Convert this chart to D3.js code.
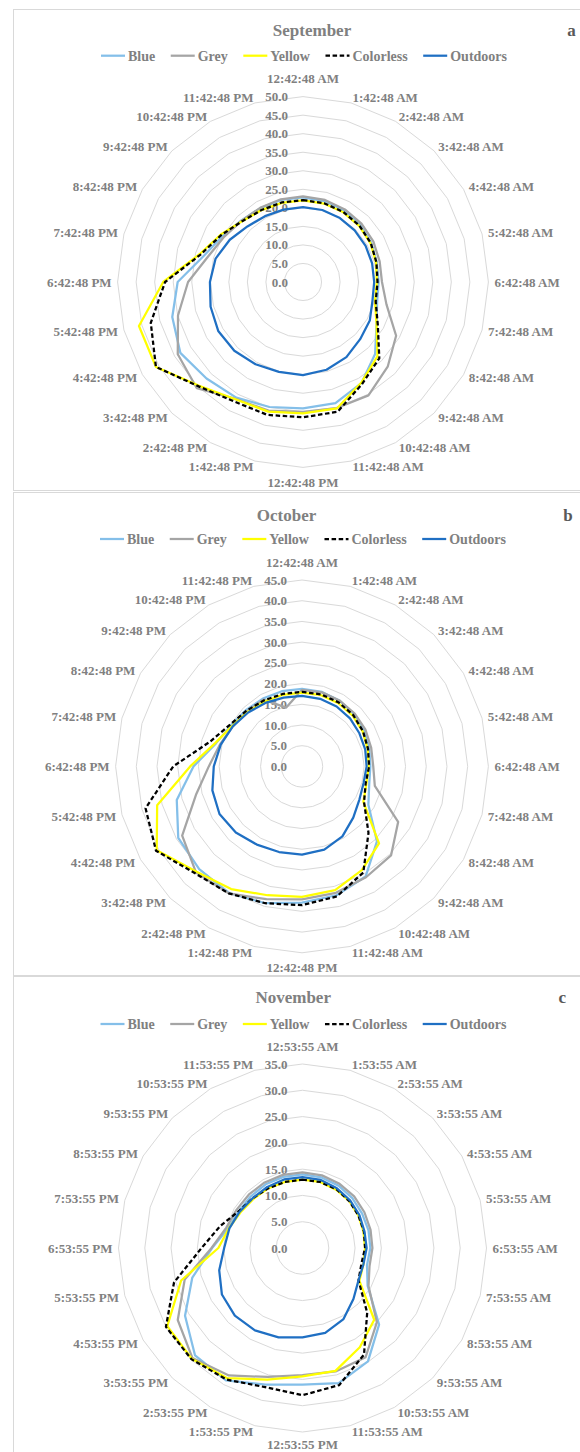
<!DOCTYPE html>
<html>
<head>
<meta charset="utf-8">
<script src="https://cdn.jsdelivr.net/npm/d3@7"></script>
<style>
  html, body { margin: 0; padding: 0; background: #fff; }
  svg text { font-family: "Liberation Serif", "Times New Roman", serif; font-weight: bold; }
</style>
</head>
<body>
<svg id="chart" width="580" height="1452"></svg>
<script>
// ---- Categories (hourly readings) ----
const hoursSepOct = [
  "12:42:48 AM", "1:42:48 AM", "2:42:48 AM", "3:42:48 AM", "4:42:48 AM", "5:42:48 AM",
  "6:42:48 AM", "7:42:48 AM", "8:42:48 AM", "9:42:48 AM", "10:42:48 AM", "11:42:48 AM",
  "12:42:48 PM", "1:42:48 PM", "2:42:48 PM", "3:42:48 PM", "4:42:48 PM", "5:42:48 PM",
  "6:42:48 PM", "7:42:48 PM", "8:42:48 PM", "9:42:48 PM", "10:42:48 PM", "11:42:48 PM"
];
const hoursNov = [
  "12:53:55 AM", "1:53:55 AM", "2:53:55 AM", "3:53:55 AM", "4:53:55 AM", "5:53:55 AM",
  "6:53:55 AM", "7:53:55 AM", "8:53:55 AM", "9:53:55 AM", "10:53:55 AM", "11:53:55 AM",
  "12:53:55 PM", "1:53:55 PM", "2:53:55 PM", "3:53:55 PM", "4:53:55 PM", "5:53:55 PM",
  "6:53:55 PM", "7:53:55 PM", "8:53:55 PM", "9:53:55 PM", "10:53:55 PM", "11:53:55 PM"
];

const seriesNames = ["Blue", "Grey", "Yellow", "Colorless", "Outdoors"];

// ---- Radial axis ticks ----
const sepTicks = [0, 5, 10, 15, 20, 25, 30, 35, 40, 45, 50];
const octTicks = [0, 5, 10, 15, 20, 25, 30, 35, 40, 45];
const novTicks = [0, 5, 10, 15, 20, 25, 30, 35];

// ---- September ----
const sepBlue      = [22.8,22.6,22.3,21.8,21.2,20.6,20.4,20.7,22.9,27.5,31.5,33.8,34.1,34.9,36.0,36.8,38.2,36.5,33.8,27.6,25.0,23.5,23.0,22.9];
const sepGrey      = [23.1,22.9,22.6,22.3,21.9,21.4,21.3,23.3,29.0,32.3,35.3,35.2,35.0,35.9,36.4,40.5,39.0,34.9,31.0,26.5,24.5,23.4,23.1,23.1];
const sepYellow    = [22.0,21.9,21.7,21.4,21.0,20.4,19.9,20.1,22.9,28.4,31.4,35.3,35.4,36.2,36.5,39.6,45.8,45.8,37.7,28.9,25.6,23.2,22.4,22.1];
const sepColorless = [22.1,22.0,21.8,21.5,21.1,20.5,20.1,20.3,23.3,29.1,31.8,36.2,36.5,37.1,37.2,39.8,45.8,42.5,37.2,28.6,25.4,23.2,22.4,22.2];
const sepOutdoors  = [20.2,20.1,19.9,19.7,19.5,19.3,19.2,19.4,20.8,21.8,23.4,24.5,25.1,25.1,25.6,26.2,26.4,25.8,25.1,24.4,22.8,21.2,20.5,20.2];

// ---- October ----
const octBlue      = [18.7,18.6,18.3,17.8,17.3,16.8,16.5,16.8,18.5,25.6,30.7,32.2,32.9,34.2,35.3,35.1,34.5,31.3,26.2,21.5,19.8,19.2,18.9,18.8];
const octGrey      = [18.5,18.5,18.3,18.0,17.7,17.3,17.2,18.2,26.8,30.4,30.9,31.6,32.1,33.2,35.4,36.2,33.4,26.5,22.5,20.5,19.3,18.8,18.6,14.7];
const octYellow    = [17.8,17.8,17.6,17.3,16.9,16.4,16.1,16.1,17.1,26.3,28.9,30.9,31.5,32.2,34.2,36.0,40.5,36.2,27.0,21.7,19.5,18.6,18.1,17.9];
const octColorless = [18.0,18.0,17.8,17.5,17.0,16.5,16.2,15.9,17.3,22.7,29.6,32.5,33.5,34.2,35.4,36.5,40.7,39.1,31.1,23.0,20.1,19.0,18.4,18.1];
const octOutdoors  = [17.0,16.9,16.7,16.4,16.0,15.8,15.6,15.4,16.0,17.5,19.5,20.8,21.3,21.4,21.8,22.6,23.0,22.4,21.3,20.3,19.3,18.4,17.7,17.2];

// ---- November ----
const novBlue      = [14.0,13.9,13.7,13.4,13.1,13.0,12.9,12.7,14.3,20.6,24.9,26.6,26.0,26.9,29.1,28.9,25.8,21.7,17.2,14.6,14.0,13.9,14.0,14.0];
const novGrey      = [14.4,14.3,14.1,13.9,13.6,13.4,13.3,13.2,14.5,20.0,24.0,24.3,24.2,25.4,28.0,29.6,27.4,23.2,17.3,15.0,14.5,14.4,14.4,14.4];
const novYellow    = [13.0,13.0,12.8,12.6,12.3,12.0,11.9,12.0,12.5,19.3,21.8,24.2,24.4,25.9,28.6,29.8,29.7,23.9,16.0,14.5,13.6,13.2,13.1,13.0];
const novColorless = [13.0,13.0,12.9,12.6,12.3,12.1,11.9,11.6,12.3,17.4,23.4,27.0,28.0,27.4,28.9,29.9,30.0,25.3,19.2,16.2,14.0,13.4,13.1,13.0];
const novOutdoors  = [13.5,13.4,13.1,12.8,12.5,12.2,12.2,12.0,12.3,13.7,15.6,16.7,17.0,17.6,18.1,18.2,17.7,16.4,14.9,14.4,13.8,13.4,13.4,13.5];

// ---- Styles ----
const seriesStyle = {
  Blue:      { color: "#84bfe9", dash: null },
  Grey:      { color: "#a5a5a5", dash: null },
  Yellow:    { color: "#ffff00", dash: null },
  Colorless: { color: "#000000", dash: "4.5,2.6" },
  Outdoors:  { color: "#1f6fc3", dash: null }
};
const textGrey = "#808080";
const gridGrey = "#d9d9d9";

// ---- Panel layout ----
const panels = [
  { title: "September", letter: "a", cats: hoursSepOct, ticks: sepTicks,
    values: [sepBlue, sepGrey, sepYellow, sepColorless, sepOutdoors],
    box: [13.5, 9.5, 620, 481], cx: 303, cy: 282, R: 185.4, bottomShift: 9,
    titleX: 312, titleY: 30, letterX: 571.6, legendY: 55.7 },
  { title: "October", letter: "b", cats: hoursSepOct, ticks: octTicks,
    values: [octBlue, octGrey, octYellow, octColorless, octOutdoors],
    box: [13.5, 492.5, 620, 483], cx: 302, cy: 766.4, R: 186.4, bottomShift: 9,
    titleX: 286.5, titleY: 515, letterX: 568, legendY: 539 },
  { title: "November", letter: "c", cats: hoursNov, ticks: novTicks,
    values: [novBlue, novGrey, novYellow, novColorless, novOutdoors],
    box: [13.5, 976.5, 620, 520], cx: 302.5, cy: 1248, R: 184, bottomShift: 6.5,
    titleX: 293.2, titleY: 997, letterX: 562.3, legendY: 1024 }
];

const svg = d3.select("#chart");

function drawPanel(p) {
  const g = svg.append("g");

  // chart area frame
  g.append("rect")
    .attr("x", p.box[0]).attr("y", p.box[1])
    .attr("width", p.box[2]).attr("height", p.box[3])
    .attr("fill", "#fff").attr("stroke", gridGrey).attr("stroke-width", 1);

  const maxV = d3.max(p.ticks);
  const r = d3.scaleLinear().domain([0, maxV]).range([0, p.R]);
  const n = p.cats.length;
  const ang = d3.scaleLinear().domain([0, n]).range([0, 2 * Math.PI]);

  const plot = g.append("g").attr("transform", `translate(${p.cx},${p.cy})`);

  // polygonal gridlines
  const ring = t => d3.lineRadial()
    .angle((d, i) => ang(i))
    .radius(r(t))
    .curve(d3.curveLinearClosed)(p.cats);
  plot.selectAll("path.grid")
    .data(p.ticks.filter(t => t > 0))
    .join("path")
    .attr("class", "grid")
    .attr("d", d => ring(d))
    .attr("fill", "none")
    .attr("stroke", gridGrey)
    .attr("stroke-width", 1);

  // value axis labels
  plot.selectAll("text.tick")
    .data(p.ticks)
    .join("text")
    .attr("class", "tick")
    .attr("x", -15)
    .attr("y", d => -r(d))
    .attr("dy", "0.35em")
    .attr("text-anchor", "end")
    .attr("font-size", 13)
    .attr("fill", textGrey)
    .text(d => d.toFixed(1));

  // category labels around the rim
  plot.selectAll("text.cat")
    .data(p.cats)
    .join("text")
    .attr("class", "cat")
    .attr("x", (d, i) => (p.R + 6) * Math.sin(ang(i)))
    .attr("y", (d, i) => {
      let y = -(p.R + 6) * Math.cos(ang(i));
      if (i === 0) y -= 12;
      if (i === n / 2) y += p.bottomShift;
      return y;
    })
    .attr("dy", "0.35em")
    .attr("text-anchor", (d, i) => (i === 0 || i === n / 2) ? "middle" : (i < n / 2 ? "start" : "end"))
    .attr("font-size", 13)
    .attr("fill", textGrey)
    .text(d => d);

  // series
  const line = d3.lineRadial()
    .angle((d, i) => ang(i))
    .radius(d => r(d))
    .curve(d3.curveLinearClosed);
  seriesNames.forEach((name, si) => {
    const st = seriesStyle[name];
    plot.append("path")
      .attr("d", line(p.values[si]))
      .attr("fill", "none")
      .attr("stroke", st.color)
      .attr("stroke-width", 2.25)
      .attr("stroke-linejoin", "round")
      .attr("stroke-dasharray", st.dash);
  });

  // title and panel letter
  g.append("text")
    .attr("x", p.titleX).attr("y", p.titleY).attr("dy", "0.35em")
    .attr("text-anchor", "middle").attr("font-size", 17)
    .attr("fill", textGrey).text(p.title);
  g.append("text")
    .attr("x", p.letterX).attr("y", p.titleY).attr("dy", "0.35em")
    .attr("text-anchor", "middle").attr("font-size", 17)
    .attr("fill", "#595959").text(p.letter);

  // legend, centred over the plot
  const lg = g.append("g");
  let x = 0;
  seriesNames.forEach(name => {
    const st = seriesStyle[name];
    lg.append("line")
      .attr("x1", x).attr("x2", x + 24).attr("y1", 0).attr("y2", 0)
      .attr("stroke", st.color).attr("stroke-width", 2.25)
      .attr("stroke-dasharray", st.dash);
    const t = lg.append("text")
      .attr("x", x + 27).attr("y", 0).attr("dy", "0.35em")
      .attr("font-size", 14).attr("fill", textGrey).text(name);
    x += 27 + t.node().getComputedTextLength() + 15.5;
  });
  const total = x - 15.5;
  lg.attr("transform", `translate(${p.cx + 1 - total / 2},${p.legendY})`);
}

panels.forEach(drawPanel);
</script>
</body>
</html>
